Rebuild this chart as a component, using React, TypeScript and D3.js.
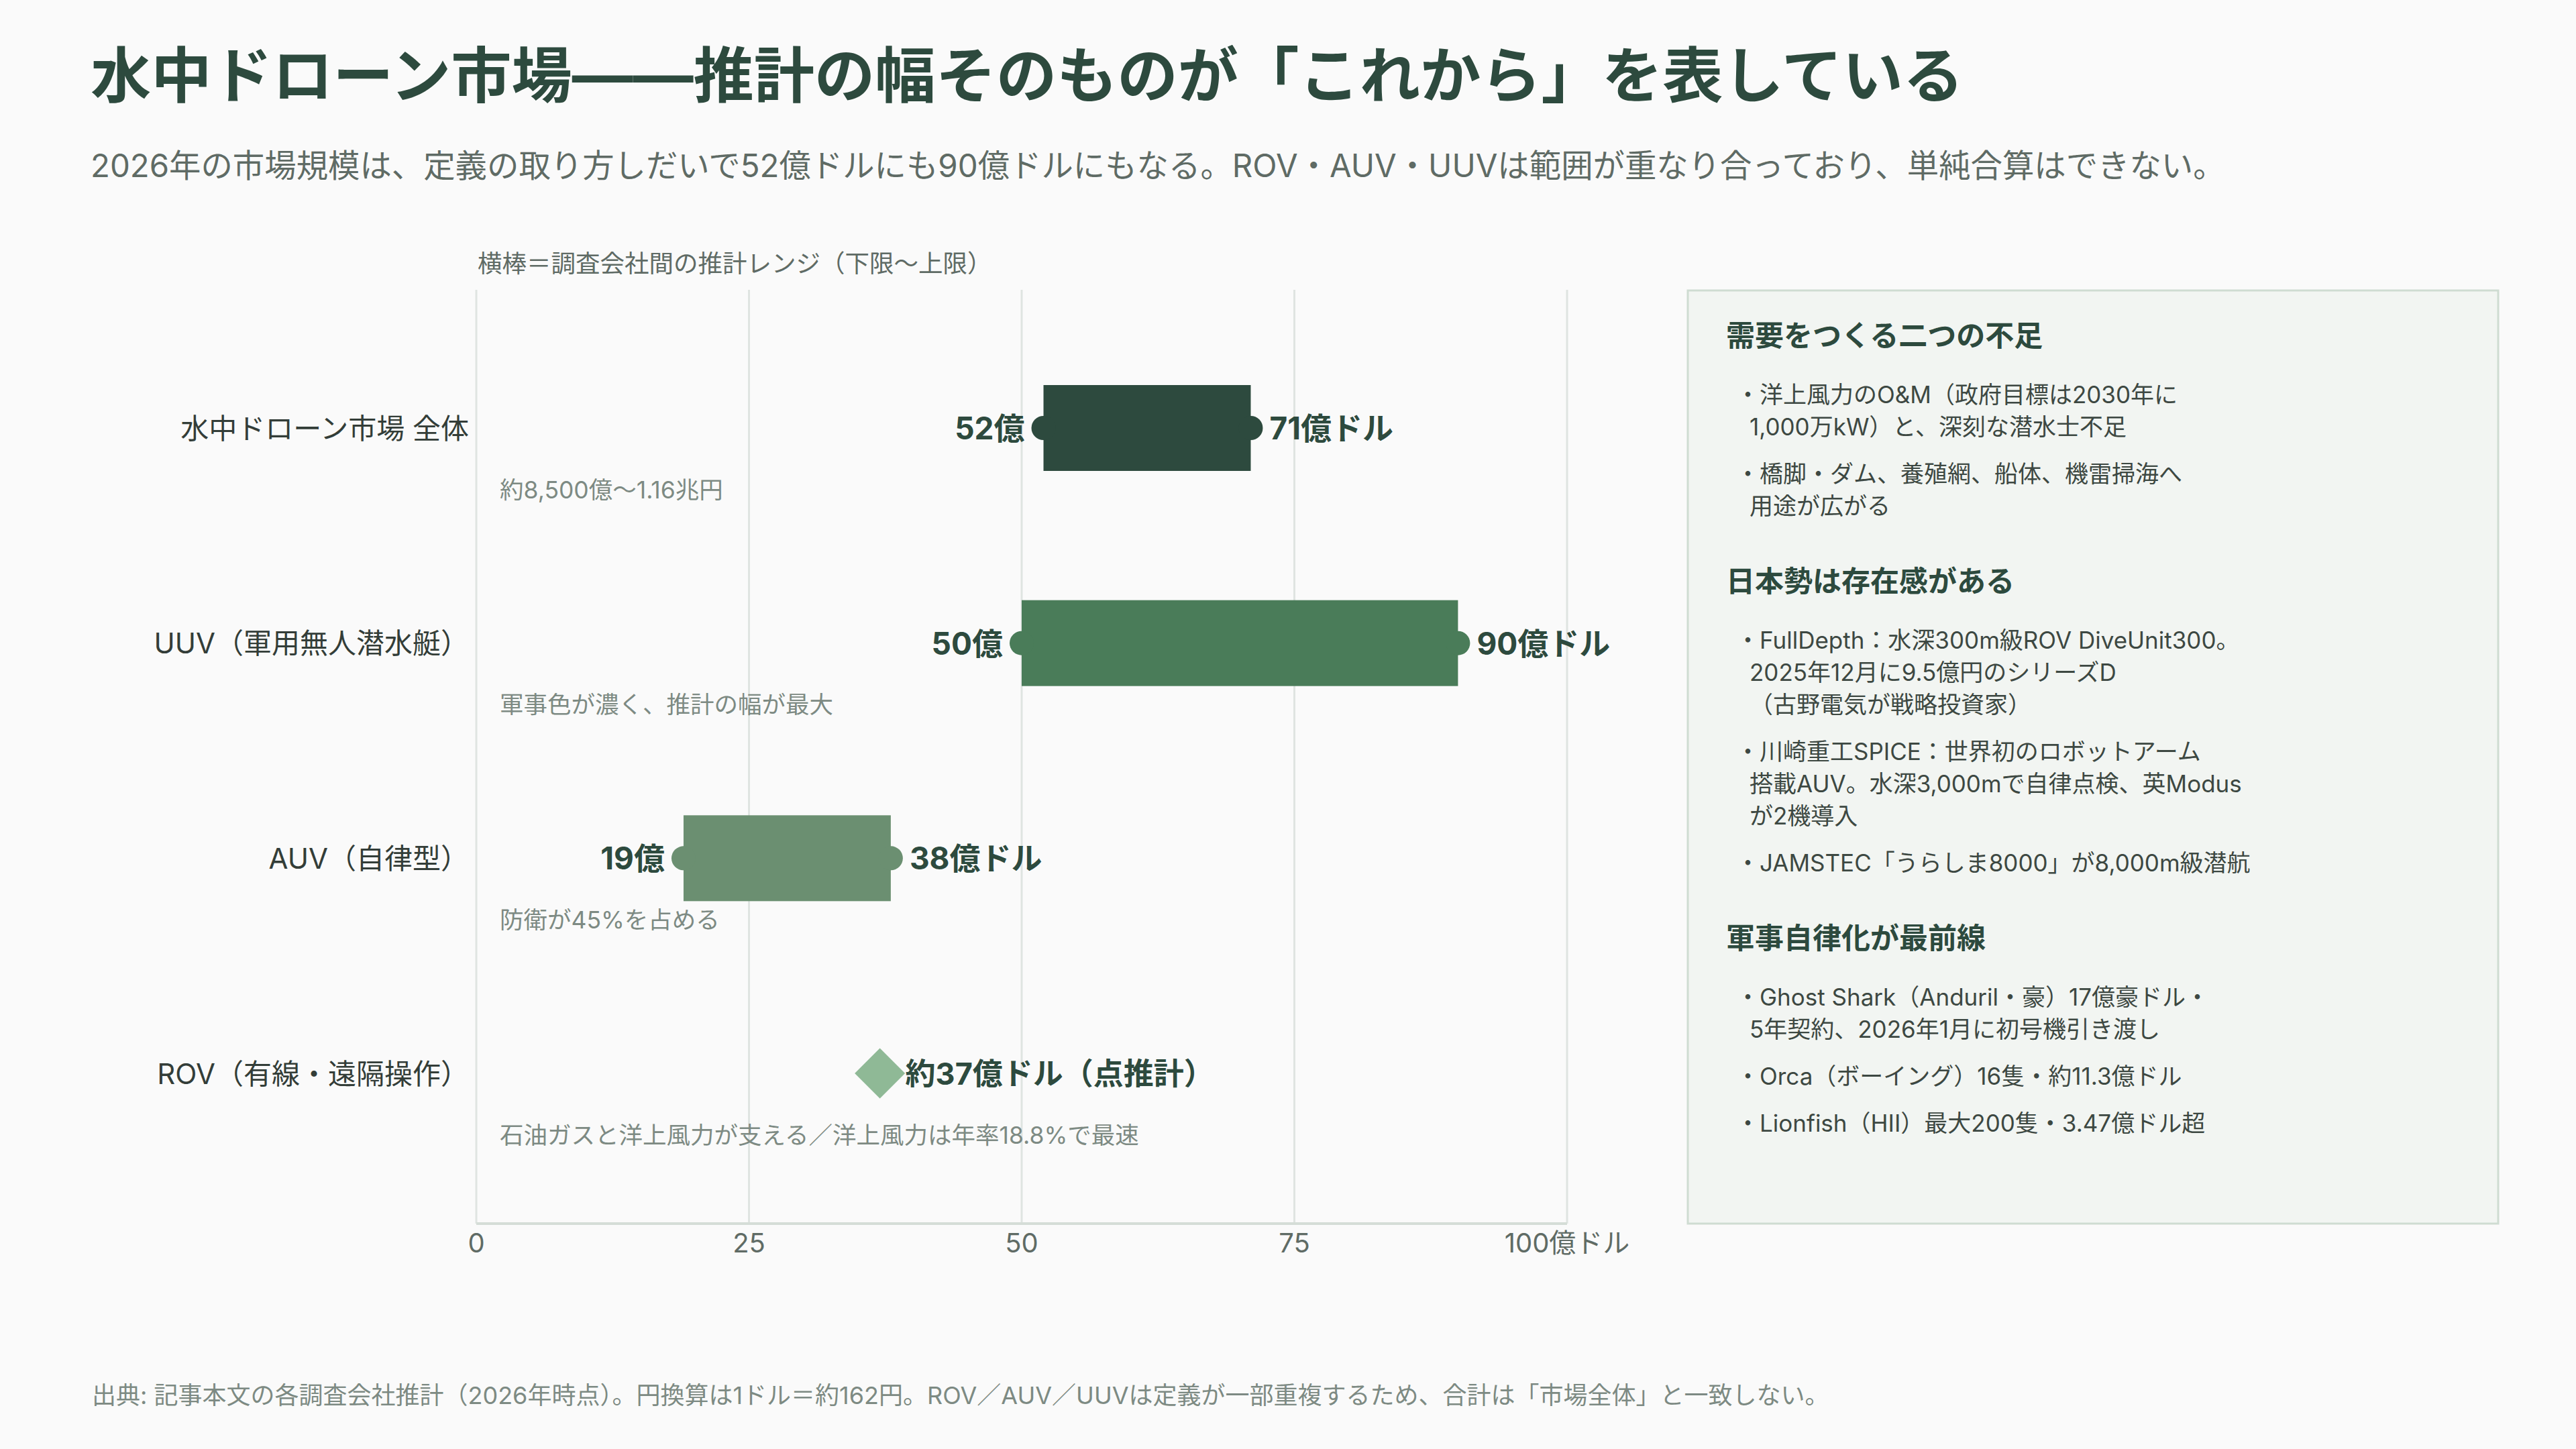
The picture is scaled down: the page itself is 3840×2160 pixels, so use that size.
import React, { useEffect, useRef } from 'react';
import * as d3 from 'd3';

// Chart data
const categories = ['水中ドローン市場 全体', 'UUV（軍用無人潜水艇）', 'AUV（自律型）', 'ROV（有線・遠隔操作）'];
const lowValues: (number | null)[] = [52, 50, 19, null];
const highValues: (number | null)[] = [71, 90, 38, null];
const pointValues: (number | null)[] = [null, null, null, 37];
const lowLabels = ['52億', '50億', '19億', ''];
const highLabels = ['71億ドル', '90億ドル', '38億ドル', ''];
const pointLabels = ['', '', '', '約37億ドル（点推計）'];
const notes = [
  '約8,500億〜1.16兆円',
  '軍事色が濃く、推計の幅が最大',
  '防衛が45%を占める',
  '石油ガスと洋上風力が支える／洋上風力は年率18.8%で最速',
];
const tickValues = [0, 25, 50, 75, 100];
const tickLabels = ['0', '25', '50', '75', '100億ドル'];

// Side panel
const panelHeadings = ['需要をつくる二つの不足', '日本勢は存在感がある', '軍事自律化が最前線'];
const panelItems: string[][][] = [
  [
    ['・洋上風力のO&M（政府目標は2030年に', '1,000万kW）と、深刻な潜水士不足'],
    ['・橋脚・ダム、養殖網、船体、機雷掃海へ', '用途が広がる'],
  ],
  [
    ['・FullDepth：水深300m級ROV DiveUnit300。', '2025年12月に9.5億円のシリーズD', '（古野電気が戦略投資家）'],
    ['・川崎重工SPICE：世界初のロボットアーム', '搭載AUV。水深3,000mで自律点検、英Modus', 'が2機導入'],
    ['・JAMSTEC「うらしま8000」が8,000m級潜航'],
  ],
  [
    ['・Ghost Shark（Anduril・豪）17億豪ドル・', '5年契約、2026年1月に初号機引き渡し'],
    ['・Orca（ボーイング）16隻・約11.3億ドル'],
    ['・Lionfish（HII）最大200隻・3.47億ドル超'],
  ],
];

const title = '水中ドローン市場——推計の幅そのものが「これから」を表している';
const subtitle = '2026年の市場規模は、定義の取り方しだいで52億ドルにも90億ドルにもなる。ROV・AUV・UUVは範囲が重なり合っており、単純合算はできない。';
const caption = '横棒＝調査会社間の推計レンジ（下限〜上限）';
const footer = '出典: 記事本文の各調査会社推計（2026年時点）。円換算は1ドル＝約162円。ROV／AUV／UUVは定義が一部重複するため、合計は「市場全体」と一致しない。';

const barColors = ['#2d4a3e', '#4a7c59', '#6b8f71', '#8fb996'];
const dark = '#2d4a3e';
const gray = '#5f6b65';
const light = '#7d8a83';
const FONT = 'Inter, "Noto Sans CJK JP", "Noto Sans", sans-serif';

const W = 3840;
const H = 2160;

const App: React.FC = () => {
  const svgRef = useRef<SVGSVGElement>(null);

  useEffect(() => {
    if (!svgRef.current) return;
    const svg = d3.select(svgRef.current);
    svg.selectAll('*').remove();

    svg.append('rect').attr('width', W).attr('height', H).attr('fill', '#fafafa');

    // Header
    svg.append('text')
      .attr('x', 135).attr('y', 112)
      .attr('dominant-baseline', 'central')
      .style('font-size', '90.3px').style('font-weight', 700)
      .style('fill', dark)
      .text(title);

    svg.append('text')
      .attr('x', 135).attr('y', 246)
      .attr('dominant-baseline', 'central')
      .style('font-size', '47.4px')
      .style('fill', gray)
      .text(subtitle);

    // Scales
    const x = d3.scaleLinear().domain([0, 100]).range([710, 2336]);
    const y = d3.scalePoint<string>().domain(categories).range([638, 1600]);
    const plotTop = 432;
    const plotBottom = 1824;

    svg.append('text')
      .attr('x', 712).attr('y', 393)
      .attr('dominant-baseline', 'central')
      .style('font-size', '36.5px')
      .style('fill', gray)
      .text(caption);

    // Gridlines
    svg.append('g')
      .selectAll('line')
      .data(tickValues)
      .enter().append('line')
      .attr('x1', d => x(d)).attr('x2', d => x(d))
      .attr('y1', plotTop).attr('y2', plotBottom)
      .style('stroke', '#dfe4e1')
      .style('stroke-width', 3);

    // Axis baseline
    svg.append('line')
      .attr('x1', x(0)).attr('x2', x(100))
      .attr('y1', plotBottom).attr('y2', plotBottom)
      .style('stroke', '#d5ddd7')
      .style('stroke-width', 4);

    svg.append('g')
      .selectAll('text')
      .data(tickValues)
      .enter().append('text')
      .attr('x', d => x(d))
      .attr('y', 1852)
      .attr('text-anchor', 'middle')
      .attr('dominant-baseline', 'central')
      .style('font-size', '40px')
      .style('fill', gray)
      .text((_, i) => tickLabels[i]);

    // Category labels
    svg.append('g')
      .selectAll('text')
      .data(categories)
      .enter().append('text')
      .attr('x', 699)
      .attr('y', d => y(d)!)
      .attr('text-anchor', 'end')
      .attr('dominant-baseline', 'central')
      .style('font-size', '42px')
      .style('fill', '#333d38')
      .text(d => d);

    // Notes
    svg.append('g')
      .selectAll('text')
      .data(categories)
      .enter().append('text')
      .attr('x', 745)
      .attr('y', d => y(d)! + 92)
      .attr('dominant-baseline', 'central')
      .style('font-size', '35.5px')
      .style('fill', light)
      .text((_, i) => notes[i]);

    const barH = 128;
    const rows = categories.map((c, i) => ({ c, i }));

    // Range bars
    const ranges = rows.filter(r => lowValues[r.i] != null && highValues[r.i] != null);
    const rg = svg.append('g').selectAll('g').data(ranges).enter().append('g');

    rg.append('rect')
      .attr('x', r => x(lowValues[r.i]!))
      .attr('y', r => y(r.c)! - barH / 2)
      .attr('width', r => x(highValues[r.i]!) - x(lowValues[r.i]!))
      .attr('height', barH)
      .style('fill', r => barColors[r.i]);

    rg.append('circle')
      .attr('cx', r => x(lowValues[r.i]!))
      .attr('cy', r => y(r.c)!)
      .attr('r', 18)
      .style('fill', r => barColors[r.i]);

    rg.append('circle')
      .attr('cx', r => x(highValues[r.i]!))
      .attr('cy', r => y(r.c)!)
      .attr('r', 18)
      .style('fill', r => barColors[r.i]);

    rg.append('text')
      .attr('x', r => x(lowValues[r.i]!) - 28)
      .attr('y', r => y(r.c)!)
      .attr('text-anchor', 'end')
      .attr('dominant-baseline', 'central')
      .style('font-size', '46px').style('font-weight', 700)
      .style('fill', dark)
      .text(r => lowLabels[r.i]);

    rg.append('text')
      .attr('x', r => x(highValues[r.i]!) + 28)
      .attr('y', r => y(r.c)!)
      .attr('dominant-baseline', 'central')
      .style('font-size', '46px').style('font-weight', 700)
      .style('fill', dark)
      .text(r => highLabels[r.i]);

    // Point estimates
    const points = rows.filter(r => pointValues[r.i] != null);
    const pg = svg.append('g').selectAll('g').data(points).enter().append('g');

    pg.append('path')
      .attr('d', d3.symbol().type(d3.symbolSquare).size(2812)())
      .attr('transform', r => `translate(${x(pointValues[r.i]!)},${y(r.c)}) rotate(45)`)
      .style('fill', r => barColors[r.i]);

    pg.append('text')
      .attr('x', r => x(pointValues[r.i]!) + 38)
      .attr('y', r => y(r.c)!)
      .attr('dominant-baseline', 'central')
      .style('font-size', '45px').style('font-weight', 700)
      .style('fill', dark)
      .text(r => pointLabels[r.i]);

    // Side panel
    svg.append('rect')
      .attr('x', 2516).attr('y', 433)
      .attr('width', 1208).attr('height', 1391)
      .style('fill', '#f2f5f2')
      .style('stroke', '#cfdcd2')
      .style('stroke-width', 3);

    const panel = svg.append('g');
    const lineH = 48;
    const itemGap = 22;
    let cy = 500;
    panelHeadings.forEach((h, s) => {
      panel.append('text')
        .attr('x', 2573).attr('y', cy)
        .attr('dominant-baseline', 'central')
        .style('font-size', '43px').style('font-weight', 700)
        .style('fill', dark)
        .text(h);
      cy += 88;
      panelItems[s].forEach((lines, k) => {
        lines.forEach((ln, j) => {
          panel.append('text')
            .attr('x', j === 0 ? 2588 : 2608)
            .attr('y', cy)
            .attr('dominant-baseline', 'central')
            .style('font-size', '35px')
            .style('fill', '#3d4842')
            .text(ln);
          if (j < lines.length - 1) cy += lineH;
        });
        if (k < panelItems[s].length - 1) cy += lineH + itemGap;
      });
      cy += 112;
    });

    // Footer
    svg.append('text')
      .attr('x', 137).attr('y', 2080)
      .attr('dominant-baseline', 'central')
      .style('font-size', '36px')
      .style('fill', light)
      .text(footer);
  }, []);

  return (
    <svg
      ref={svgRef}
      width={W}
      height={H}
      style={{ position: 'absolute', left: 0, top: 0, fontFamily: FONT }}
    />
  );
};

export default App;
